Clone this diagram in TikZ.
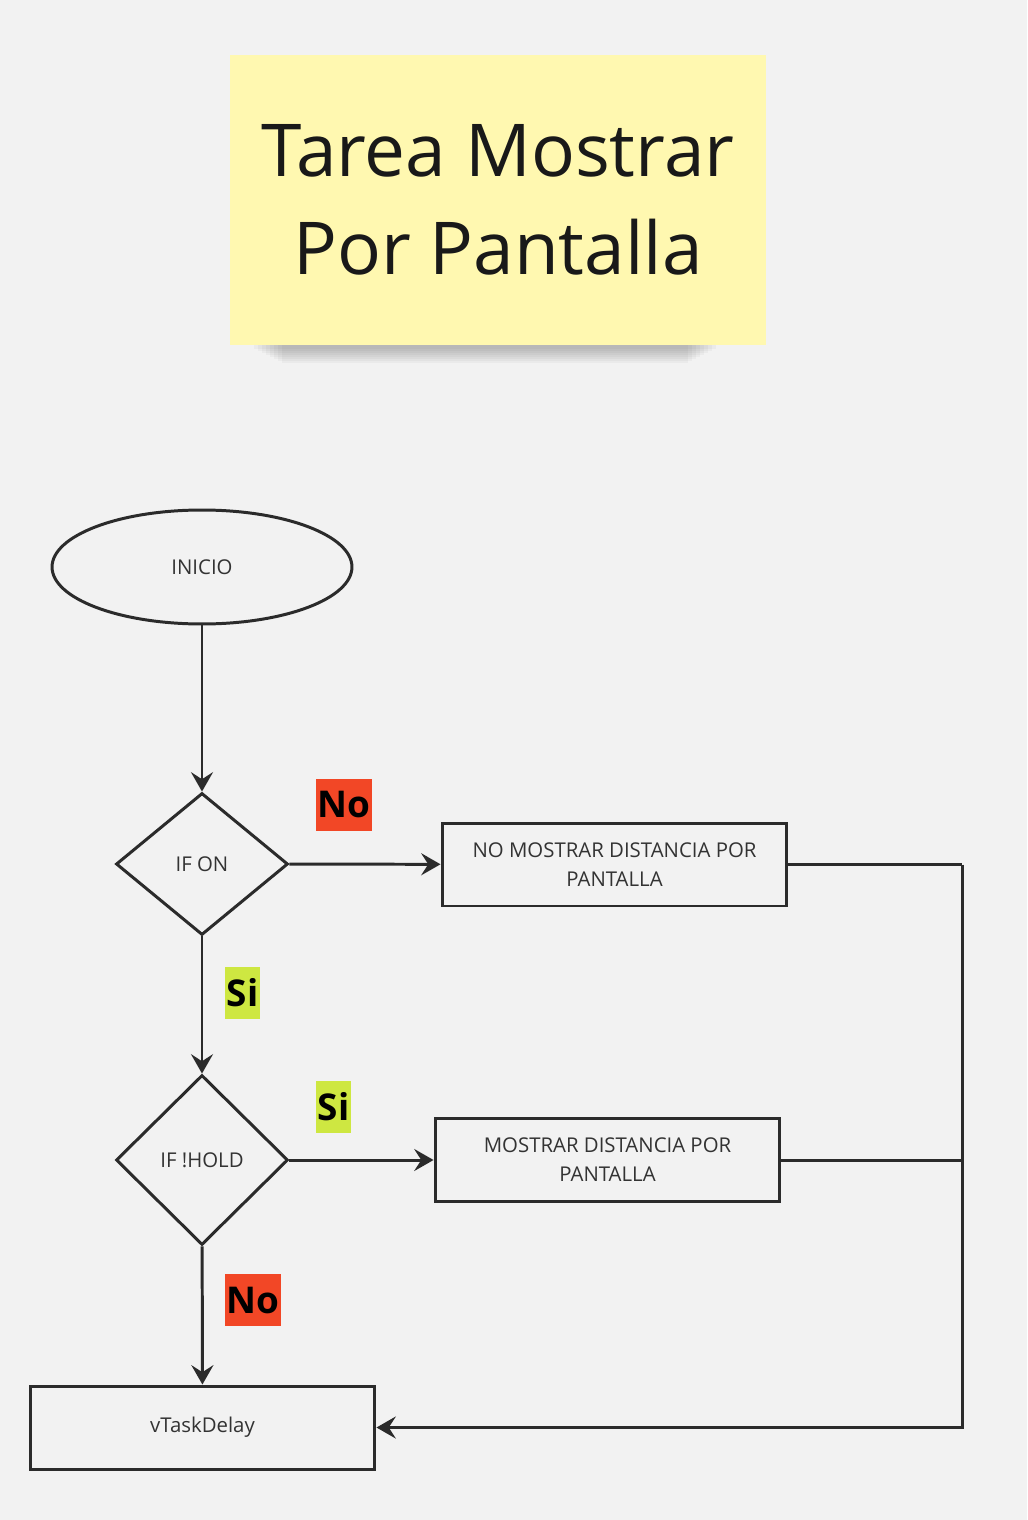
\documentclass[tikz,border=0pt]{standalone}
\usepackage{fontspec}
\setmainfont{Open Sans}
\usetikzlibrary{positioning, shapes.geometric, arrows.meta}
\definecolor{fondo}{HTML}{F2F2F2}
\definecolor{trazo}{HTML}{2B2B2B}
\definecolor{texto}{HTML}{333333}
\definecolor{amarillo}{HTML}{FFF8B0}
\definecolor{rojo}{HTML}{F24726}
\definecolor{verde}{HTML}{CEE741}
\tikzset{
	linea/.style={draw=trazo, line width=1.7pt},
	flecha/.style={linea, -{Stealth[length=11pt, width=12.5pt, inset=4pt]}},
	texto chico/.style={text=texto, font=\fontsize{11.6}{16.5}\selectfont, align=center},
	caja/.style={rectangle, linea, texto chico, minimum width=6.9cm, minimum height=1.66cm},
	decision/.style={diamond, linea, texto chico, minimum width=3.44cm, minimum height=2.84cm, aspect=1.21, inner sep=0pt},
	etiqueta/.style={text=black, font=\fontsize{21}{21}\selectfont\bfseries, inner xsep=1pt, inner ysep=0pt, minimum height=1.04cm},
}
\begin{document}
\begin{tikzpicture}[x=0.02cm, y=-0.02cm]
			\useasboundingbox[fill=fondo] (0,0) rectangle (1027,1520);
			% nota
			\foreach \i in {1,...,8}
				\fill[black, opacity=0.03] (250+\i*4, 340) rectangle (720-\i*4, 347+\i*2);
			\node[fill=amarillo, minimum width=10.72cm, minimum height=5.8cm, inner sep=0pt, align=center, text=black!90, font=\fontsize{41.5}{56}\selectfont] (titulo) at (498,200) {Tarea Mostrar\\Por Pantalla};
			% diagrama
			\node[ellipse, linea, texto chico, minimum width=6cm, minimum height=2.28cm, inner sep=0pt] (inicio) at (202,567) {INICIO};
			\node[decision] (ifon) at (202,864) {IF ON};
			\node[decision, minimum height=3.4cm, aspect=1.01] (ifhold) at (202,1160) {IF !HOLD};
			\node[caja] (nomostrar) at (614.5,864.5) {NO MOSTRAR DISTANCIA POR\\PANTALLA};
			\node[caja] (mostrar) at (607.5,1160) {MOSTRAR DISTANCIA POR\\PANTALLA};
			\node[caja] (delay) at (202.5,1427.5) {vTaskDelay};
			\coordinate (esquina) at (962,864.5);
			\draw[flecha] (inicio) -- (ifon);
			\draw[flecha] (ifon) -- (nomostrar);
			\draw[flecha] (ifon) -- (ifhold);
			\draw[flecha] (ifhold) -- (mostrar);
			\draw[flecha] (ifhold) -- (delay);
			\draw[linea] (nomostrar.east) -- (esquina);
			\draw[flecha] (esquina) |- (delay.east);
			\draw[linea] (mostrar.east) -- (mostrar.east -| esquina);
			% etiquetas
			\node[etiqueta, fill=rojo] (no1) at (344,805) {No};
			\node[etiqueta, fill=verde] (si1) at (242.5,993) {Si};
			\node[etiqueta, fill=verde] (si2) at (333.5,1107) {Si};
			\node[etiqueta, fill=rojo] (no2) at (253,1300) {No};
		\end{tikzpicture}
\end{document}
